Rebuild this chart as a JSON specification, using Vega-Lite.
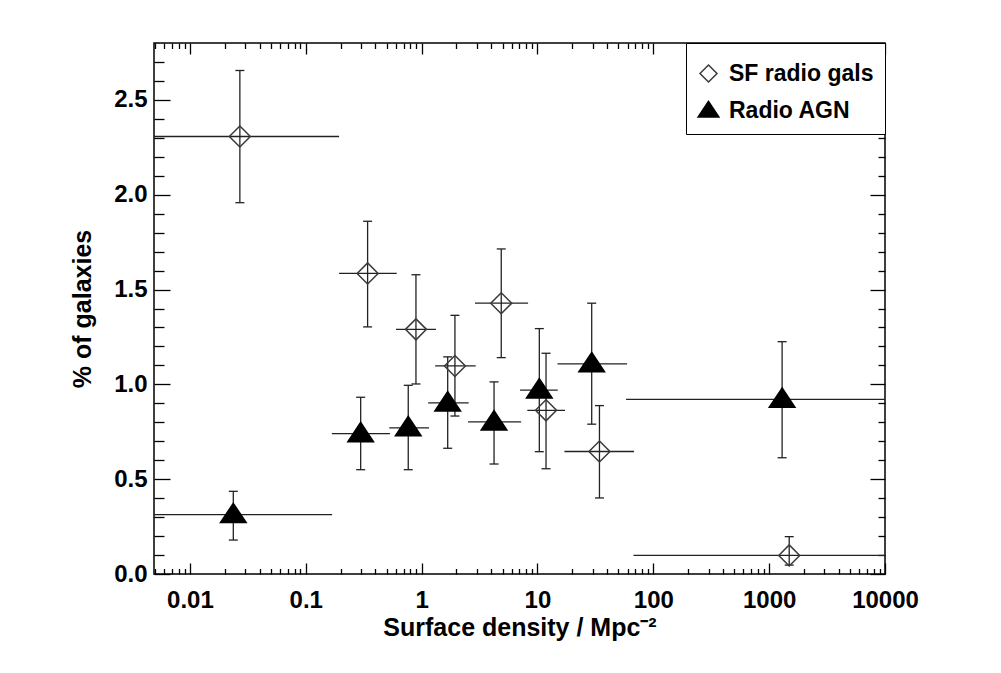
{
  "$schema": "https://vega.github.io/schema/vega-lite/v6.json",
  "width": 731,
  "height": 531,
  "autosize": {"type": "none"},
  "padding": {"left": 154, "top": 43, "right": 116, "bottom": 99},
  "background": "white",
  "data": {
    "values": [
      {"series": "SF radio gals", "x": 0.027, "xlo": 0.003, "xhi": 0.194, "y": 2.307, "ylo": 1.958, "yhi": 2.655},
      {"series": "SF radio gals", "x": 0.342, "xlo": 0.194, "xhi": 0.61, "y": 1.585, "ylo": 1.303, "yhi": 1.86},
      {"series": "SF radio gals", "x": 0.894, "xlo": 0.601, "xhi": 1.33, "y": 1.29, "ylo": 1.002, "yhi": 1.578},
      {"series": "SF radio gals", "x": 1.94, "xlo": 1.31, "xhi": 2.93, "y": 1.097, "ylo": 0.833, "yhi": 1.364},
      {"series": "SF radio gals", "x": 4.87, "xlo": 2.89, "xhi": 8.3, "y": 1.428, "ylo": 1.141, "yhi": 1.714},
      {"series": "SF radio gals", "x": 11.86, "xlo": 8.18, "xhi": 17.3, "y": 0.863, "ylo": 0.555, "yhi": 1.164},
      {"series": "SF radio gals", "x": 34.3, "xlo": 17.1, "xhi": 68.2, "y": 0.646, "ylo": 0.401, "yhi": 0.888},
      {"series": "SF radio gals", "x": 1490, "xlo": 67.5, "xhi": 20000, "y": 0.098, "ylo": 0.047, "yhi": 0.197},
      {"series": "Radio AGN", "x": 0.0237, "xlo": 0.003, "xhi": 0.169, "y": 0.313, "ylo": 0.179, "yhi": 0.436},
      {"series": "Radio AGN", "x": 0.298, "xlo": 0.168, "xhi": 0.533, "y": 0.74, "ylo": 0.55, "yhi": 0.932},
      {"series": "Radio AGN", "x": 0.767, "xlo": 0.526, "xhi": 1.16, "y": 0.771, "ylo": 0.55, "yhi": 0.995},
      {"series": "Radio AGN", "x": 1.68, "xlo": 1.14, "xhi": 2.55, "y": 0.902, "ylo": 0.663, "yhi": 1.145},
      {"series": "Radio AGN", "x": 4.22, "xlo": 2.52, "xhi": 7.23, "y": 0.802, "ylo": 0.58, "yhi": 1.013},
      {"series": "Radio AGN", "x": 10.38, "xlo": 7.08, "xhi": 14.97, "y": 0.97, "ylo": 0.645, "yhi": 1.294},
      {"series": "Radio AGN", "x": 29.4, "xlo": 14.9, "xhi": 59.4, "y": 1.108, "ylo": 0.79, "yhi": 1.428},
      {"series": "Radio AGN", "x": 1294, "xlo": 58.2, "xhi": 20000, "y": 0.921, "ylo": 0.613, "yhi": 1.225}
    ]
  },
  "resolve": {"axis": {"x": "independent", "y": "independent"}},
  "layer": [
    {
      "mark": {"type": "rule", "clip": true, "color": "#222222", "strokeWidth": 1.3},
      "encoding": {
        "x": {"field": "xlo", "type": "quantitative",
          "scale": {"type": "log", "domain": [0.0049, 10000], "nice": false},
          "axis": {"orient": "bottom", "values": [0.01, 0.1, 1, 10, 100, 1000, 10000], "format": "~g",
            "tickSize": -11, "labelPadding": 25, "labelFlush": false, "title": "Surface density / Mpc⁻²", "titlePadding": 3}},
        "x2": {"field": "xhi"},
        "y": {"field": "y", "type": "quantitative",
          "scale": {"domain": [0, 2.8], "nice": false, "zero": false},
          "axis": {"orient": "left", "values": [0, 0.5, 1, 1.5, 2, 2.5], "format": ".1f",
            "tickSize": -16, "labelPadding": 23, "labelFlush": false, "title": "% of galaxies", "titlePadding": 18}}
      }
    },
    {
      "mark": {"type": "rule", "clip": true, "color": "#222222", "strokeWidth": 1.3},
      "encoding": {
        "x": {"field": "x", "type": "quantitative",
          "scale": {"type": "log", "domain": [0.0049, 10000], "nice": false},
          "axis": {"orient": "bottom", "values": [0.005, 0.006, 0.007, 0.008, 0.009, 0.02, 0.03, 0.04, 0.05, 0.06, 0.07, 0.08, 0.09, 0.2, 0.3, 0.4, 0.5, 0.6, 0.7, 0.8, 0.9, 2, 3, 4, 5, 6, 7, 8, 9, 20, 30, 40, 50, 60, 70, 80, 90, 200, 300, 400, 500, 600, 700, 800, 900, 2000, 3000, 4000, 5000, 6000, 7000, 8000, 9000],
            "tickSize": -5.5, "labels": false, "title": null}},
        "y": {"field": "ylo", "type": "quantitative",
          "scale": {"domain": [0, 2.8], "nice": false, "zero": false},
          "axis": {"orient": "left", "values": [0.1, 0.2, 0.3, 0.4, 0.6, 0.7, 0.8, 0.9, 1.1, 1.2, 1.3, 1.4, 1.6, 1.7, 1.8, 1.9, 2.1, 2.2, 2.3, 2.4, 2.6, 2.7],
            "tickSize": -10, "labels": false, "title": null}},
        "y2": {"field": "yhi"}
      }
    },
    {
      "transform": [{"fold": ["ylo", "yhi"], "as": ["end", "yv"]}],
      "mark": {"type": "tick", "orient": "horizontal", "size": 9, "thickness": 1.3, "color": "#222222", "opacity": 1},
      "encoding": {
        "x": {"field": "x", "type": "quantitative",
          "scale": {"type": "log", "domain": [0.0049, 10000], "nice": false},
          "axis": {"orient": "top", "values": [0.01, 0.1, 1, 10, 100, 1000, 10000],
            "tickSize": -11, "labels": false, "title": null}},
        "y": {"field": "yv", "type": "quantitative",
          "scale": {"domain": [0, 2.8], "nice": false, "zero": false},
          "axis": {"orient": "right", "values": [0, 0.5, 1, 1.5, 2, 2.5],
            "tickSize": -15, "labels": false, "title": null}}
      }
    },
    {
      "mark": {"type": "point", "size": 441, "strokeWidth": 1.5, "opacity": 1, "filled": false},
      "encoding": {
        "x": {"field": "x", "type": "quantitative",
          "scale": {"type": "log", "domain": [0.0049, 10000], "nice": false},
          "axis": {"orient": "top", "values": [0.005, 0.006, 0.007, 0.008, 0.009, 0.02, 0.03, 0.04, 0.05, 0.06, 0.07, 0.08, 0.09, 0.2, 0.3, 0.4, 0.5, 0.6, 0.7, 0.8, 0.9, 2, 3, 4, 5, 6, 7, 8, 9, 20, 30, 40, 50, 60, 70, 80, 90, 200, 300, 400, 500, 600, 700, 800, 900, 2000, 3000, 4000, 5000, 6000, 7000, 8000, 9000],
            "tickSize": -5.5, "labels": false, "title": null}},
        "y": {"field": "y", "type": "quantitative",
          "scale": {"domain": [0, 2.8], "nice": false, "zero": false},
          "axis": {"orient": "right", "values": [0.1, 0.2, 0.3, 0.4, 0.6, 0.7, 0.8, 0.9, 1.1, 1.2, 1.3, 1.4, 1.6, 1.7, 1.8, 1.9, 2.1, 2.2, 2.3, 2.4, 2.6, 2.7],
            "tickSize": -7, "labels": false, "title": null}},
        "shape": {"field": "series", "type": "nominal",
          "scale": {"domain": ["SF radio gals", "Radio AGN"], "range": ["diamond", "M0,-1.08L1.22,0.76L-1.22,0.76Z"]},
          "legend": {"title": " "}},
        "fill": {"field": "series", "type": "nominal",
          "scale": {"domain": ["SF radio gals", "Radio AGN"], "range": ["transparent", "black"]},
          "legend": {"title": " "}},
        "stroke": {"field": "series", "type": "nominal",
          "scale": {"domain": ["SF radio gals", "Radio AGN"], "range": ["#3a3a3a", "black"]},
          "legend": {"title": " "}}
      }
    }
  ],
  "config": {
    "view": {"stroke": "black", "strokeWidth": 1.5},
    "axis": {
      "domain": false, "grid": false,
      "tickColor": "black", "tickWidth": 1.3,
      "labelFont": "Liberation Sans", "labelFontWeight": "bold", "labelFontSize": 24, "labelColor": "black",
      "titleFont": "Liberation Sans", "titleFontWeight": "bold", "titleFontSize": 25, "titleColor": "black"
    },
    "legend": {
      "orient": "top-right", "offset": 0,
      "strokeColor": "black", "fillColor": "white", "padding": 11,
      "titleFontSize": 8, "titlePadding": 0,
      "labelFont": "Liberation Sans", "labelFontWeight": "bold", "labelFontSize": 23, "labelColor": "black",
      "labelOffset": 9, "rowPadding": 12,
      "symbolSize": 289, "symbolStrokeWidth": 1.5
    }
  }
}
